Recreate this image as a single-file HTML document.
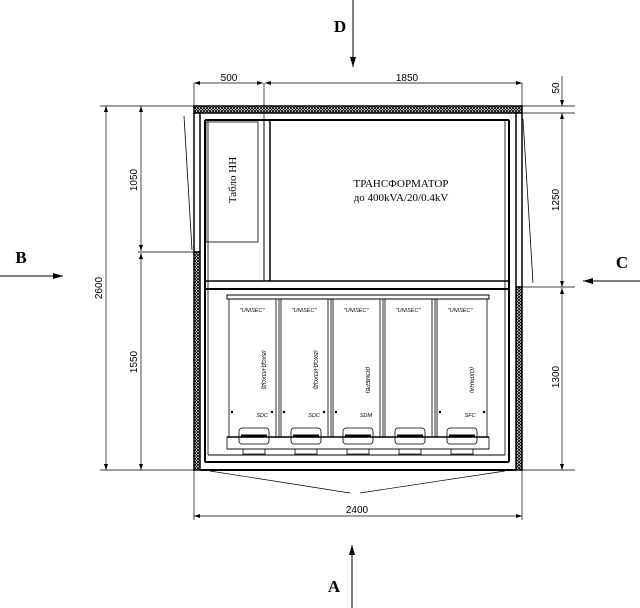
<!DOCTYPE html>
<html><head><meta charset="utf-8"><style>
html,body{margin:0;padding:0;background:#fff}
svg{display:block}
text{font-family:"Liberation Sans",sans-serif;fill:#000}
.s{font-family:"Liberation Serif","Noto Serif CJK SC",serif}
</style></head><body>
<svg width="640" height="608" viewBox="0 0 640 608" xmlns="http://www.w3.org/2000/svg">
<defs>
<pattern id="h" width="3" height="3" patternUnits="userSpaceOnUse">
<rect width="3" height="3" fill="#fff"/>
<path d="M0,0L3,3M3,0L0,3" stroke="#000" stroke-width="0.8"/>
</pattern>
<marker id="ar" markerWidth="10" markerHeight="6" refX="10" refY="3" orient="auto" markerUnits="userSpaceOnUse"><path d="M0,0L10,3L0,6z" fill="#000"/></marker>
<marker id="sm" markerWidth="6" markerHeight="4" refX="6" refY="2" orient="auto-start-reverse" markerUnits="userSpaceOnUse"><path d="M0,0L6,2L0,4z" fill="#000"/></marker>
</defs>
<g stroke="#000" fill="none">
<!-- view arrows -->
<line x1="353" y1="0" x2="353" y2="67" marker-end="url(#ar)"/>
<line x1="0" y1="276" x2="63" y2="276" marker-end="url(#ar)"/>
<line x1="640" y1="281" x2="583" y2="281" marker-end="url(#ar)"/>
<line x1="352" y1="608" x2="352" y2="545" marker-end="url(#ar)"/>

<!-- dimensions top -->
<line x1="194" y1="83" x2="194" y2="106" stroke-width="0.7"/>
<line x1="264" y1="83" x2="264" y2="280" stroke-width="0.7"/>
<line x1="522" y1="83" x2="522" y2="106" stroke-width="0.7"/>
<line x1="194" y1="83" x2="263" y2="83" stroke-width="0.7" marker-start="url(#sm)" marker-end="url(#sm)"/>
<line x1="265" y1="83" x2="522" y2="83" stroke-width="0.7" marker-start="url(#sm)" marker-end="url(#sm)"/>
<!-- left dims -->
<line x1="100" y1="106" x2="194" y2="106" stroke-width="0.7"/>
<line x1="100" y1="470" x2="194" y2="470" stroke-width="0.7"/>
<line x1="138" y1="252" x2="194" y2="252" stroke-width="0.7"/>
<line x1="106" y1="106" x2="106" y2="470" stroke-width="0.7" marker-start="url(#sm)" marker-end="url(#sm)"/>
<line x1="141" y1="106" x2="141" y2="251" stroke-width="0.7" marker-start="url(#sm)" marker-end="url(#sm)"/>
<line x1="141" y1="253" x2="141" y2="470" stroke-width="0.7" marker-start="url(#sm)" marker-end="url(#sm)"/>
<!-- right dims -->
<line x1="522" y1="106" x2="575" y2="106" stroke-width="0.7"/>
<line x1="522" y1="113" x2="575" y2="113" stroke-width="0.7"/>
<line x1="522" y1="287" x2="575" y2="287" stroke-width="0.7"/>
<line x1="522" y1="470" x2="575" y2="470" stroke-width="0.7"/>
<line x1="562" y1="76" x2="562" y2="106" stroke-width="0.7" marker-end="url(#sm)"/>
<line x1="562" y1="113" x2="562" y2="287" stroke-width="0.7" marker-start="url(#sm)" marker-end="url(#sm)"/>
<line x1="562" y1="288" x2="562" y2="470" stroke-width="0.7" marker-start="url(#sm)" marker-end="url(#sm)"/>
<!-- bottom dim -->
<line x1="194" y1="470" x2="194" y2="520" stroke-width="0.7"/>
<line x1="522" y1="470" x2="522" y2="520" stroke-width="0.7"/>
<line x1="194" y1="516" x2="522" y2="516" stroke-width="0.7" marker-start="url(#sm)" marker-end="url(#sm)"/>

<!-- walls -->
<rect x="194" y="106" width="328" height="7" fill="url(#h)" stroke-width="1.5"/>
<rect x="194" y="113" width="6" height="139" fill="#fff" stroke-width="1.5"/>
<rect x="194" y="252" width="6" height="218" fill="url(#h)" stroke-width="1.5"/>
<rect x="516" y="113" width="6" height="174" fill="#fff" stroke-width="1.5"/>
<rect x="516" y="287" width="6" height="183" fill="url(#h)" stroke-width="1.5"/>
<line x1="200" y1="470" x2="516" y2="470" stroke-width="2"/>
<!-- inner frame -->
<line x1="205" y1="120" x2="509" y2="120" stroke-width="2"/>
<line x1="205" y1="120" x2="205" y2="462" stroke-width="2"/>
<line x1="208" y1="120" x2="208" y2="455" stroke-width="0.8"/>
<line x1="509" y1="120" x2="509" y2="462" stroke-width="2"/>
<line x1="505" y1="120" x2="505" y2="455" stroke-width="0.8"/>
<line x1="200" y1="113" x2="516" y2="113" stroke-width="1"/>
<line x1="205" y1="462" x2="509" y2="462" stroke-width="2"/>
<line x1="208" y1="455" x2="505" y2="455" stroke-width="1"/>
<line x1="205" y1="281" x2="509" y2="281" stroke-width="1.5"/>
<line x1="205" y1="289" x2="509" y2="289" stroke-width="2"/>
<line x1="264" y1="120" x2="264" y2="281"/>
<line x1="270" y1="120" x2="270" y2="281" stroke-width="1.5"/>
<!-- tablo -->
<rect x="206" y="122" width="52" height="120" stroke-width="0.8"/>
<!-- doors -->
<line x1="184" y1="116" x2="192" y2="250" stroke-width="0.8"/>
<line x1="523" y1="119" x2="533" y2="283" stroke-width="0.8"/>
<line x1="210" y1="471" x2="350" y2="493" stroke-width="0.7"/>
<line x1="360" y1="493" x2="505" y2="471" stroke-width="0.7"/>

<!-- panels -->
<rect x="227" y="295" width="262" height="4" stroke-width="1"/>
<g stroke-width="0.8">
<rect x="229" y="299" width="50" height="138"/>
<rect x="281" y="299" width="50" height="138"/>
<rect x="333" y="299" width="50" height="138"/>
<rect x="385" y="299" width="50" height="138"/>
<rect x="437" y="299" width="50" height="138"/>
<line x1="276" y1="299" x2="276" y2="437"/><line x1="328" y1="299" x2="328" y2="437"/>
<line x1="380" y1="299" x2="380" y2="437"/><line x1="432" y1="299" x2="432" y2="437"/>
<line x1="227" y1="437" x2="489" y2="437" stroke-width="1.5"/>
<line x1="227" y1="449" x2="489" y2="449"/>
<rect x="227" y="437" width="262" height="12"/>
</g>
<g stroke-width="0.8">
<rect x="239" y="428" width="30" height="16" rx="3"/>
<rect x="291" y="428" width="30" height="16" rx="3"/>
<rect x="343" y="428" width="30" height="16" rx="3"/>
<rect x="395" y="428" width="30" height="16" rx="3"/>
<rect x="447" y="428" width="30" height="16" rx="3"/>
<path d="M243,449v5h22v-5M295,449v5h22v-5M347,449v5h22v-5M399,449v5h22v-5M451,449v5h22v-5"/>
<path d="M241,436h26M293,436h26M345,436h26M397,436h26M449,436h26" stroke-width="3"/>
</g>
</g>
<g fill="#000">
<circle cx="232" cy="412" r="1.2"/><circle cx="284" cy="412" r="1.2"/><circle cx="336" cy="412" r="1.2"/><circle cx="440" cy="412" r="1.2"/>
<circle cx="272" cy="412" r="1.2"/><circle cx="324" cy="412" r="1.2"/><circle cx="484" cy="412" r="1.2"/>
</g>

<text x="340" y="32" class="s" font-size="17" font-weight="bold" text-anchor="middle">D</text>
<text x="21" y="263" class="s" font-size="17" font-weight="bold" text-anchor="middle">B</text>
<text x="622" y="268" class="s" font-size="17" font-weight="bold" text-anchor="middle">C</text>
<text x="334" y="592" class="s" font-size="17" font-weight="bold" text-anchor="middle">A</text>

<text x="229" y="81" font-size="10" text-anchor="middle">500</text>
<text x="407" y="81" font-size="10" text-anchor="middle">1850</text>
<text x="357" y="513" font-size="10" text-anchor="middle">2400</text>
<text transform="translate(102,288) rotate(-90)" font-size="10" text-anchor="middle">2600</text>
<text transform="translate(137,180) rotate(-90)" font-size="10" text-anchor="middle">1050</text>
<text transform="translate(137,362) rotate(-90)" font-size="10" text-anchor="middle">1550</text>
<text transform="translate(559,88) rotate(-90)" font-size="10" text-anchor="middle">50</text>
<text transform="translate(559,200) rotate(-90)" font-size="10" text-anchor="middle">1250</text>
<text transform="translate(559,377) rotate(-90)" font-size="10" text-anchor="middle">1300</text>

<text transform="translate(236,180) rotate(-90)" class="s" font-size="11" text-anchor="middle">Табло НН</text>
<text x="401" y="187" class="s" font-size="11" text-anchor="middle">ТРАНСФОРМАТОР</text>
<text x="401" y="201" class="s" font-size="11" text-anchor="middle">до 400kVA/20/0.4kV</text>

<g class="s" font-size="5.5" font-style="italic">
<text x="252" y="312" text-anchor="middle">"UNISEC"</text>
<text x="304" y="312" text-anchor="middle">"UNISEC"</text>
<text x="356" y="312" text-anchor="middle">"UNISEC"</text>
<text x="408" y="312" text-anchor="middle">"UNISEC"</text>
<text x="460" y="312" text-anchor="middle">"UNISEC"</text>
<text x="262" y="417" text-anchor="middle">SDC</text>
<text x="314" y="417" text-anchor="middle">SDC</text>
<text x="366" y="417" text-anchor="middle">SDM</text>
<text x="470" y="417" text-anchor="middle">SFC</text>
<text transform="translate(262,370) rotate(90)" text-anchor="middle">(ВХОД-ИЗХОД)</text>
<text transform="translate(314,370) rotate(90)" text-anchor="middle">(ВХОД-ИЗХОД)</text>
<text transform="translate(366,380) rotate(90)" text-anchor="middle">(ИЗМЕРВ)</text>
<text transform="translate(470,380) rotate(90)" text-anchor="middle">(ОХРАНА)</text>
</g>
</svg>
</body></html>
